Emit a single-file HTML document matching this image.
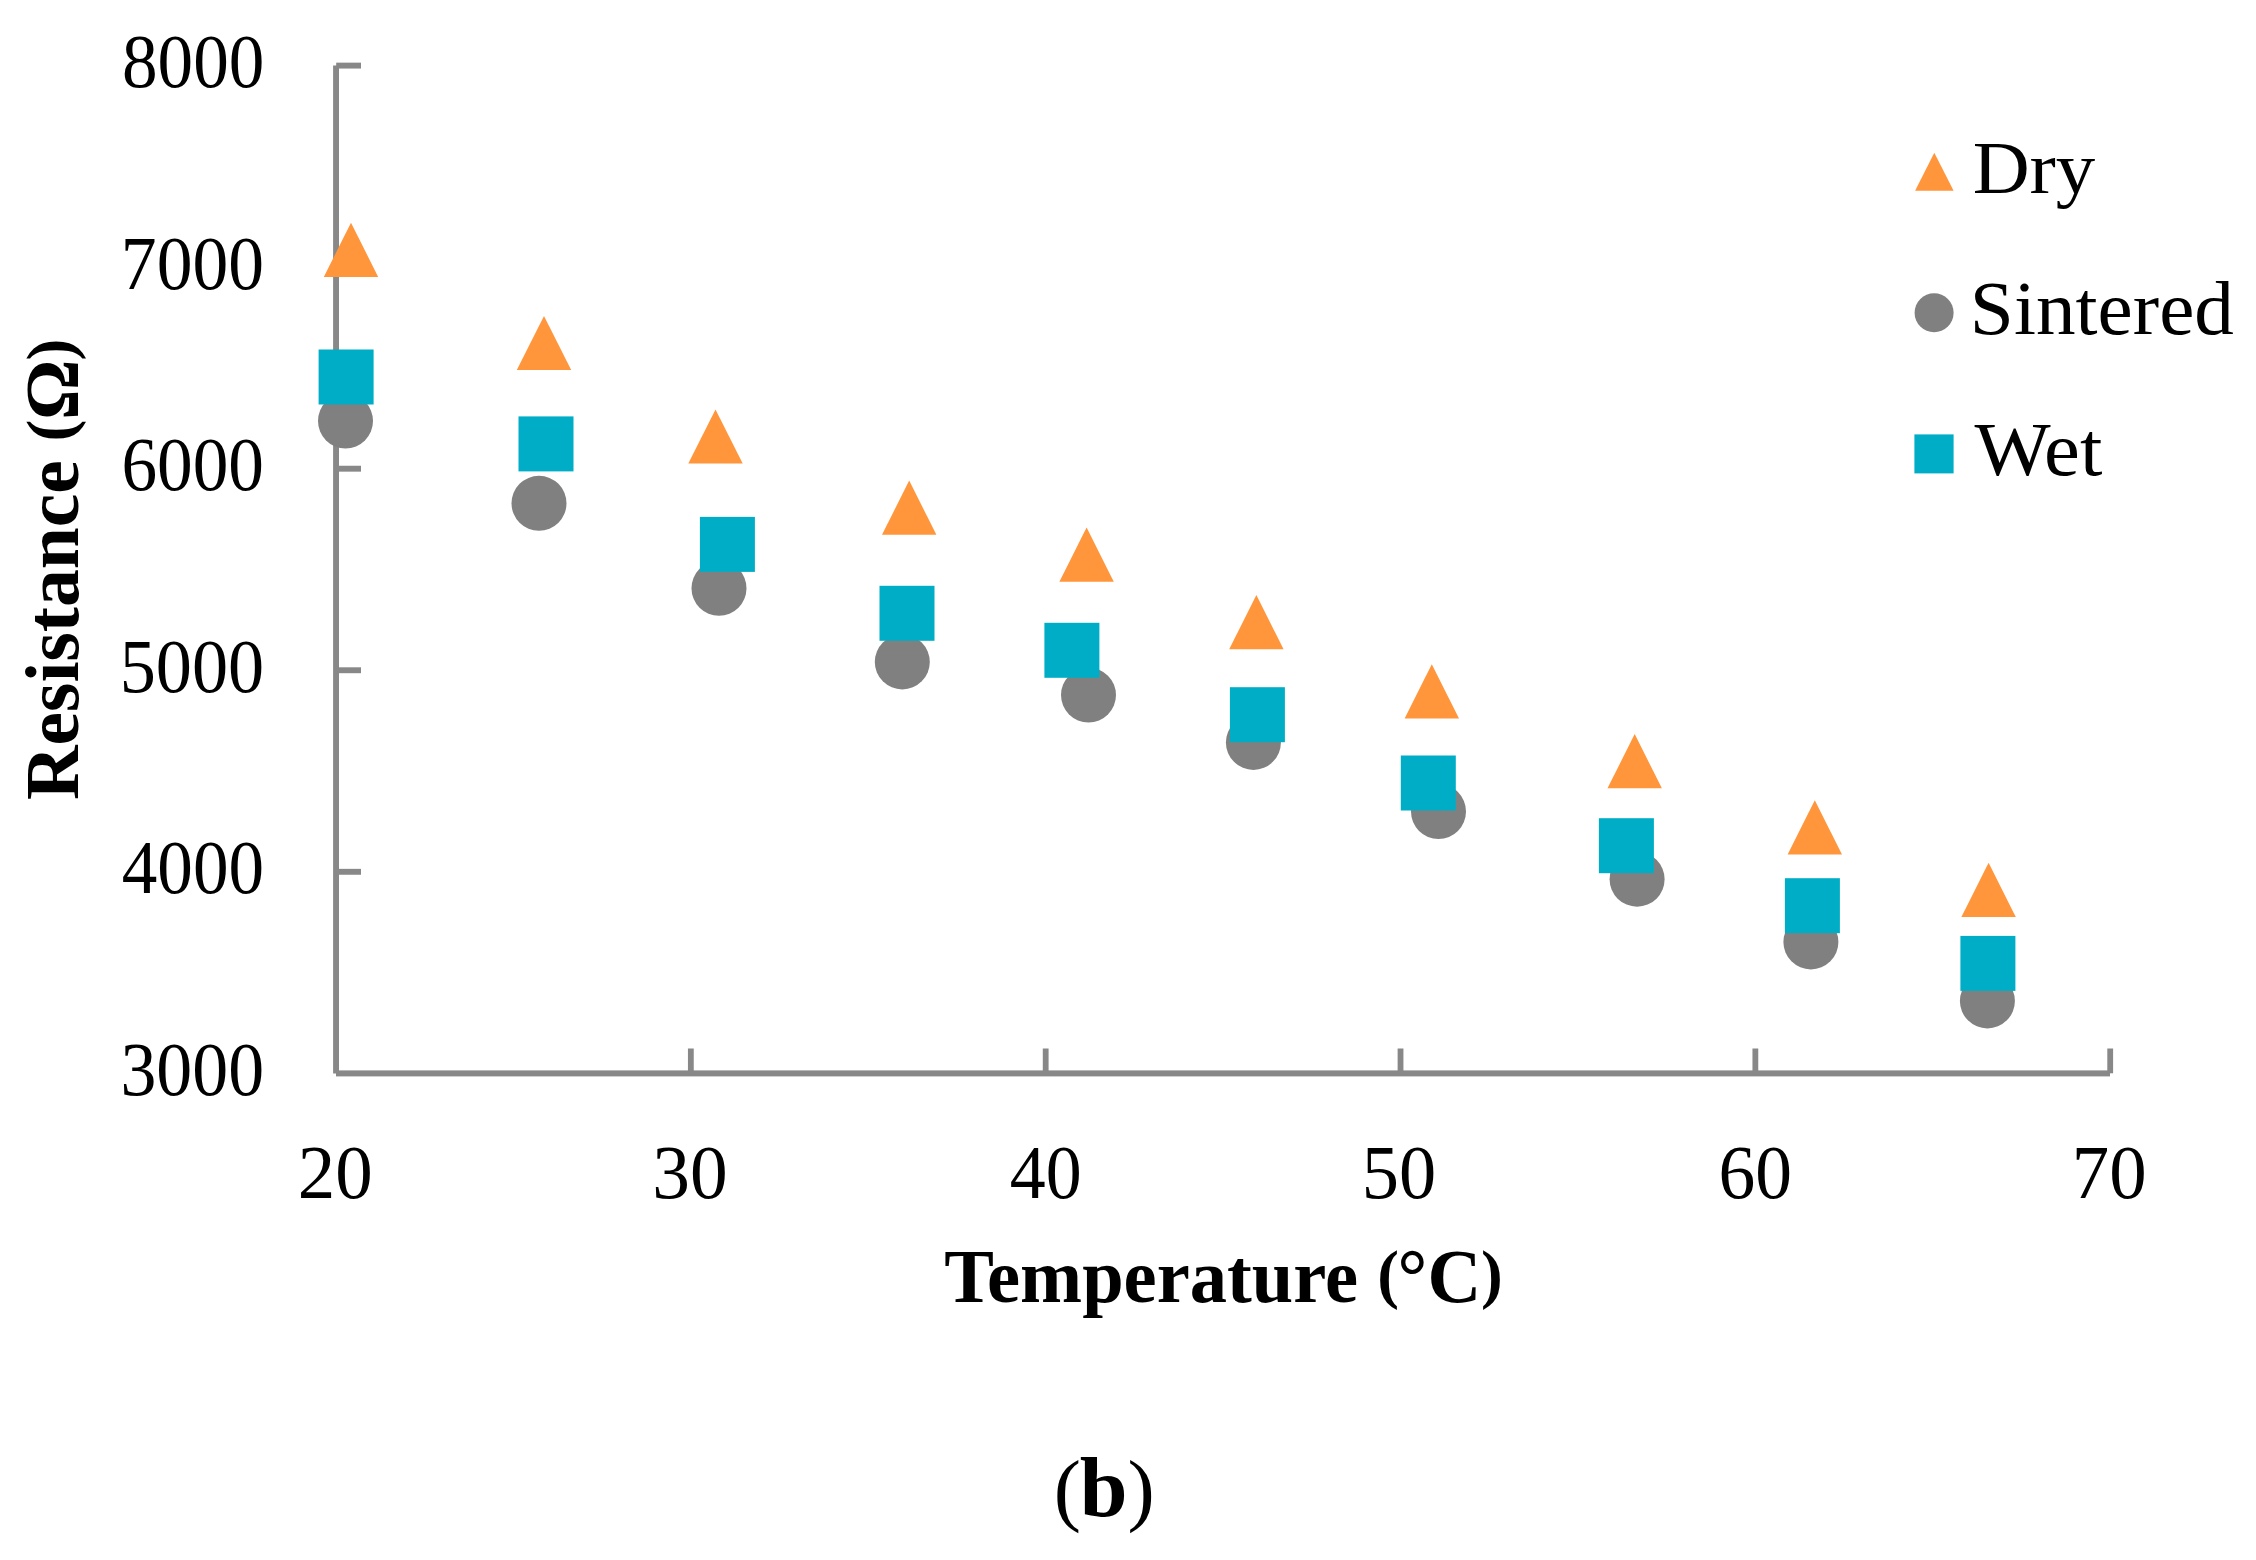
<!DOCTYPE html>
<html lang="en"><head><meta charset="utf-8"><title>Resistance vs Temperature (b)</title>
<style>
html,body{margin:0;padding:0;background:#fff;}
body{width:2256px;height:1560px;overflow:hidden;}
svg{display:block;font-family:"Liberation Serif",serif;}
</style></head><body>
<svg width="2256" height="1560" viewBox="0 0 2256 1560">
<rect width="2256" height="1560" fill="#fff"/>
<g fill="#888888">
<rect x="333.1" y="65.5" width="5.9" height="1008"/>
<rect x="336" y="1070.4" width="1774" height="6.0"/>
<rect x="336.2" y="62.65" width="24.8" height="5.9"/>
<rect x="336.2" y="264.20" width="24.8" height="5.9"/>
<rect x="336.2" y="465.75" width="24.8" height="5.9"/>
<rect x="336.2" y="667.30" width="24.8" height="5.9"/>
<rect x="336.2" y="868.85" width="24.8" height="5.9"/>
<rect x="687.94" y="1048.5" width="5.8" height="24.8"/>
<rect x="1042.78" y="1048.5" width="5.8" height="24.8"/>
<rect x="1397.62" y="1048.5" width="5.8" height="24.8"/>
<rect x="1752.46" y="1048.5" width="5.8" height="24.8"/>
<rect x="2107.30" y="1048.5" width="5.8" height="24.8"/>
</g>
<g fill="#FF963C">
<path d="M351.0 222.7L378.2 276.9H323.8Z"/>
<path d="M544.0 315.9L571.2 370.1H516.8Z"/>
<path d="M715.5 409.4L742.7 463.6H688.3Z"/>
<path d="M909.2 480.6L936.4 534.8H882.0Z"/>
<path d="M1086.6 527.6L1113.8 581.8H1059.4Z"/>
<path d="M1256.4 595.1L1283.6 649.3H1229.2Z"/>
<path d="M1431.8 664.2L1459.0 718.4H1404.6Z"/>
<path d="M1634.7 734.1L1661.9 788.3H1607.5Z"/>
<path d="M1814.8 800.2L1842.0 854.4H1787.6Z"/>
<path d="M1988.6 862.8L2015.8 917.0H1961.4Z"/>
</g>
<g fill="#808080">
<circle cx="345.5" cy="421.0" r="27.5"/>
<circle cx="539.0" cy="503.3" r="27.5"/>
<circle cx="719.0" cy="588.3" r="27.5"/>
<circle cx="902.3" cy="661.9" r="27.5"/>
<circle cx="1088.5" cy="695.1" r="27.5"/>
<circle cx="1253.4" cy="742.4" r="27.5"/>
<circle cx="1438.5" cy="811.5" r="27.5"/>
<circle cx="1637.1" cy="879.2" r="27.5"/>
<circle cx="1810.9" cy="941.9" r="27.5"/>
<circle cx="1987.4" cy="1000.9" r="27.5"/>
</g>
<g fill="#00ADC6">
<rect x="318.6" y="349.5" width="55" height="55"/>
<rect x="518.5" y="416.4" width="55" height="55"/>
<rect x="699.9" y="516.9" width="55" height="55"/>
<rect x="879.5" y="585.8" width="55" height="55"/>
<rect x="1044.4" y="622.8" width="55" height="55"/>
<rect x="1229.9" y="687.2" width="55" height="55"/>
<rect x="1400.8" y="755.5" width="55" height="55"/>
<rect x="1598.9" y="818.2" width="55" height="55"/>
<rect x="1784.9" y="878.2" width="55" height="55"/>
<rect x="1960.4" y="935.9" width="55" height="55"/>
</g>
<path fill="#FF963C" d="M1934.3 152.7L1953.6 190.7H1915.1Z"/>
<circle fill="#808080" cx="1934.1" cy="312.7" r="19.5"/>
<rect fill="#00ADC6" x="1914.4" y="434.4" width="39.2" height="39"/>
<g fill="#000">
<text transform="translate(121.95,87.15) scale(0.3560,0.3770)" font-size="200">8000</text>
<text transform="translate(120.85,288.70) scale(0.3580,0.3770)" font-size="200">7000</text>
<text transform="translate(121.39,490.25) scale(0.3567,0.3770)" font-size="200">6000</text>
<text transform="translate(119.67,691.80) scale(0.3611,0.3770)" font-size="200">5000</text>
<text transform="translate(121.78,893.35) scale(0.3557,0.3770)" font-size="200">4000</text>
<text transform="translate(120.41,1094.90) scale(0.3592,0.3770)" font-size="200">3000</text>
<text transform="translate(297.73,1197.75) scale(0.3749,0.3756)" font-size="200">20</text>
<text transform="translate(652.33,1197.75) scale(0.3769,0.3756)" font-size="200">30</text>
<text transform="translate(1009.76,1197.75) scale(0.3596,0.3756)" font-size="200">40</text>
<text transform="translate(1361.83,1197.75) scale(0.3722,0.3756)" font-size="200">50</text>
<text transform="translate(1718.39,1197.75) scale(0.3678,0.3756)" font-size="200">60</text>
<text transform="translate(2071.83,1197.75) scale(0.3743,0.3756)" font-size="200">70</text>
<text transform="translate(1972.63,193.00) scale(0.3944,0.3725)" font-size="200">Dry</text>
<text transform="translate(1969.85,334.24) scale(0.3963,0.3806)" font-size="200">Sintered</text>
<text transform="translate(1974.40,475.30) scale(0.4035,0.3808)" font-size="200">Wet</text>
<text transform="translate(944.18,1302.20) scale(0.3725,0.3785)" font-size="200" font-weight="bold"><tspan x="-0.0" y="0.0">Temperature </tspan><tspan x="1162.3" y="-16.2" font-size="175.3">(</tspan><tspan x="1217.3" y="0.0">°C</tspan><tspan x="1441.1" y="-16.2" font-size="175.3">)</tspan></text>
<text transform="translate(78.10,800.03) rotate(-90) scale(0.3777,0.3800)" font-size="200" font-weight="bold"><tspan x="0.0" y="0.0">Resistance </tspan><tspan x="949.1" y="-15.9" font-size="173.7">(</tspan><tspan x="1006.5" y="0.0">Ω</tspan><tspan x="1163.8" y="-15.9" font-size="173.7">)</tspan></text>
<text transform="translate(1079.81,1516.35) scale(0.4300,0.4271)" font-size="200"><tspan x="-60.6" y="-0.9" font-size="190.2">(</tspan><tspan x="-0.0" y="0.0" font-weight="bold">b</tspan><tspan x="111.0" y="-0.9" font-size="190.2">)</tspan></text>
</g>
</svg>
</body></html>
